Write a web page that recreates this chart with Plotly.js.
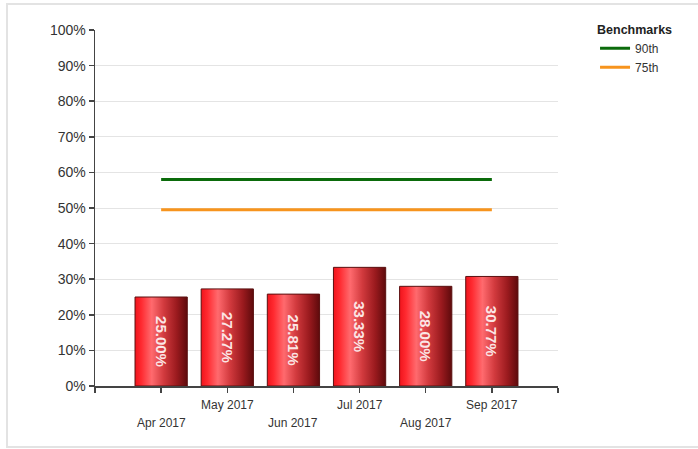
<!DOCTYPE html>
<html>
<head>
<meta charset="utf-8">
<script src="https://cdn.plot.ly/plotly-3.0.1.min.js"></script>
<style>
  html, body { margin: 0; padding: 0; background: #fff; }
  #wrap { position: relative; width: 698px; height: 449px; }
  #chart { position: absolute; left: 0; top: 0; width: 698px; height: 449px; }
  #frame { position: absolute; left: 6px; top: 3px; width: 700px; height: 441px;
           border-left: 2px solid #e3e3e3; border-top: 2px solid #e3e3e3; border-bottom: 2px solid #e3e3e3;
           pointer-events: none; }
</style>
</head>
<body>
<div id="wrap">
  <div id="chart"></div>
  <div id="frame"></div>
</div>
<script>
// ---- data ----
const months = ["Apr 2017", "May 2017", "Jun 2017", "Jul 2017", "Aug 2017", "Sep 2017"];
const rates = [25.00, 27.27, 25.81, 33.33, 28.00, 30.77];
const rateLabels = ["25.00%", "27.27%", "25.81%", "33.33%", "28.00%", "30.77%"];
const bench90 = [58, 58, 58, 58, 58, 58];
const bench75 = [49.5, 49.5, 49.5, 49.5, 49.5, 49.5];
const yTickVals = [0, 10, 20, 30, 40, 50, 60, 70, 80, 90, 100];
const yTickText = ["0%", "10%", "20%", "30%", "40%", "50%", "60%", "70%", "80%", "90%", "100%"];

const idx = months.map((m, i) => i);

const bars = {
  type: "bar",
  x: idx,
  y: rates,
  text: rateLabels,
  textposition: "inside",
  insidetextanchor: "middle",
  textangle: 90,
  constraintext: "none",
  textfont: { family: "Liberation Sans, Arial, sans-serif", size: 15, color: "#fbe6e6", weight: "bold" },
  width: 0.79,
  marker: { color: "#e0141b", line: { color: "#5a1010", width: 1 } },
  showlegend: false,
  hoverinfo: "skip"
};

const line90 = {
  type: "scatter", mode: "lines", name: "90th",
  x: idx, y: bench90,
  line: { color: "#0b6b0b", width: 3 },
  hoverinfo: "skip"
};
const line75 = {
  type: "scatter", mode: "lines", name: "75th",
  x: idx, y: bench75,
  line: { color: "#f7941d", width: 3 },
  hoverinfo: "skip"
};

// staggered month labels
const annotations = months.map((m, i) => ({
  x: i, xref: "x", y: 0, yref: "paper",
  yanchor: "top", xanchor: "center",
  yshift: (i % 2 === 0) ? -28 : -10,
  text: m, showarrow: false,
  font: { family: "Liberation Sans, Arial, sans-serif", size: 12, color: "#333" }
}));

const layout = {
  width: 698, height: 449,
  margin: { l: 95, r: 140, t: 30, b: 63 },
  paper_bgcolor: "#fff", plot_bgcolor: "#fff",
  font: { family: "Liberation Sans, Arial, sans-serif", size: 14, color: "#333" },
  xaxis: {
    range: [-1, 6],
    tickvals: idx.concat([-1, 6]),
    ticktext: idx.map(() => "").concat(["", ""]),
    ticks: "outside", ticklen: 5, tickcolor: "#444", tickwidth: 1.5,
    showline: true, linecolor: "#444", linewidth: 1.5,
    showgrid: false, zeroline: false, fixedrange: true
  },
  yaxis: {
    range: [0, 100],
    tickvals: yTickVals, ticktext: yTickText,
    ticks: "outside", ticklen: 5, tickcolor: "#444", tickwidth: 1.5,
    showline: true, linecolor: "#444", linewidth: 1.5,
    showgrid: true, gridcolor: "#e4e4e4", gridwidth: 1,
    zeroline: false, fixedrange: true,
    tickfont: { size: 14, color: "#333" }
  },
  legend: {
    x: 1.08, xanchor: "left", y: 1.035, yanchor: "top",
    title: { text: "Benchmarks", font: { size: 12.5, color: "#222", weight: "bold" } },
    font: { size: 12, color: "#333" },
    itemwidth: 30, tracegroupgap: 0, bgcolor: "rgba(0,0,0,0)"
  },
  annotations: annotations,
  bargap: 0.2,
  showlegend: true
};

Plotly.newPlot("chart", [bars, line90, line75], layout, { displayModeBar: false, staticPlot: true }).then(gd => {
  const svg = gd.querySelector("svg.main-svg");
  const NS = "http://www.w3.org/2000/svg";
  let defs = svg.querySelector("defs");
  if (!defs) { defs = document.createElementNS(NS, "defs"); svg.insertBefore(defs, svg.firstChild); }
  const grad = document.createElementNS(NS, "linearGradient");
  grad.setAttribute("id", "barGrad");
  grad.setAttribute("x1", "0"); grad.setAttribute("y1", "0");
  grad.setAttribute("x2", "1"); grad.setAttribute("y2", "0");
  [["0", "#f0141c"], ["0.12", "#ff2a30"], ["0.32", "#ff6a6e"], ["0.55", "#d23a3e"], ["0.8", "#9a1a1e"], ["1", "#5e0a0c"]]
    .forEach(([o, c]) => {
      const s = document.createElementNS(NS, "stop");
      s.setAttribute("offset", o); s.setAttribute("stop-color", c);
      grad.appendChild(s);
    });
  defs.appendChild(grad);
  gd.querySelectorAll(".barlayer .point path").forEach(p => { p.style.fill = "url(#barGrad)"; });
});
</script>
</body>
</html>
